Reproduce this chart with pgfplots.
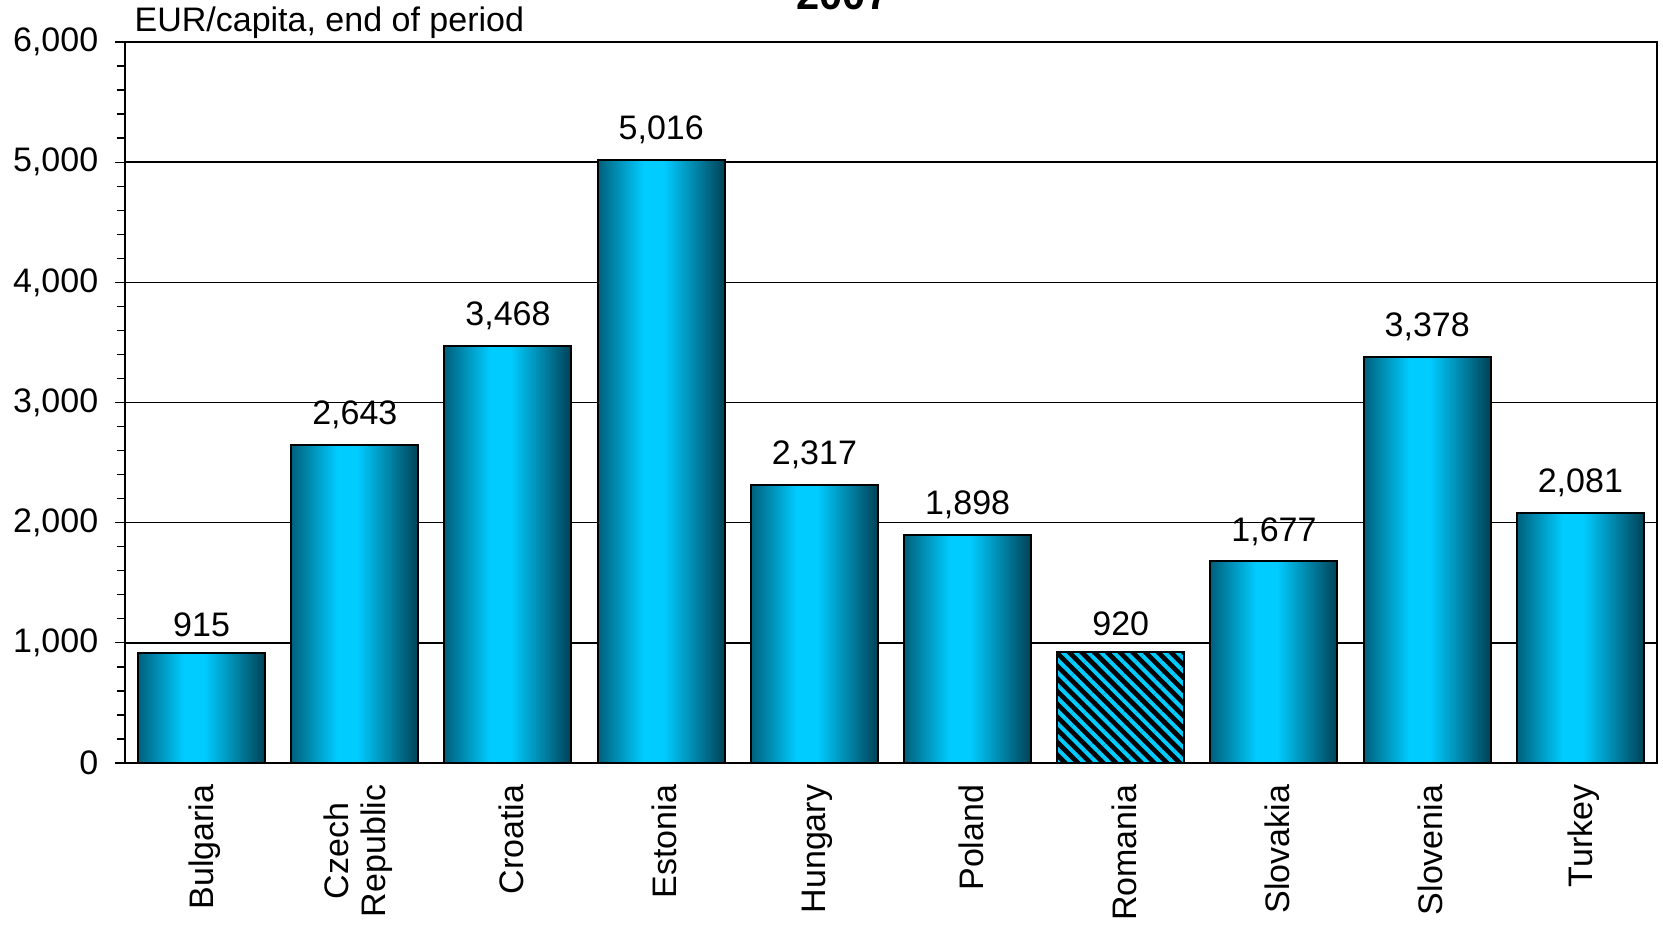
\documentclass[border=0pt]{standalone}
\usepackage{pgfplots}
\pgfplotsset{compat=1.18}
\usepackage{fontspec}
\setmainfont{Liberation Sans}
\usetikzlibrary{patterns.meta}
\definecolor{bardark}{RGB}{0,96,124}
\definecolor{bardarkr}{RGB}{0,66,86}
\definecolor{barlight}{RGB}{0,204,255}
\pgfdeclarehorizontalshading{barshade}{100bp}{color(0bp)=(bardark); color(25bp)=(bardark); color(43bp)=(barlight); color(51bp)=(barlight); color(75bp)=(bardarkr); color(100bp)=(bardarkr)}
\begin{document}
\begin{tikzpicture}
\begin{axis}[
  scale only axis,
  width=459.6pt, height=216.3pt,
  xmin=-0.5, xmax=9.5,
  ymin=0, ymax=6000,
  ytick={0,1000,...,6000},
  minor y tick num=4,
  ytick pos=left,
  ymajorgrids,
  major grid style={black, line width=0.5pt},
  axis line style={black, line width=0.6pt},
  tick align=outside,
  tick style={black, line width=0.4pt},
  major tick length=3pt, minor tick length=2.5pt,
  xtick={0,...,9},
  xtick style={draw=none},
  xticklabels={Bulgaria,{Czech\\Republic},Croatia,Estonia,Hungary,Poland,Romania,Slovakia,Slovenia,Turkey},
  xticklabel style={rotate=90, anchor=east, align=center, yshift=-1pt, font=\fontsize{10.2}{11}\selectfont},
  yticklabel style={font=\fontsize{10.2}{11}\selectfont, xshift=-1.5pt},
  /pgf/number format/.cd, 1000 sep={,}, assume math mode=true, /pgfplots/.cd,
  ybar, bar width=38.1pt,
  nodes near coords,
  every node near coord/.append style={font=\fontsize{10.2}{11}\selectfont, black, yshift=1.2pt},
  every axis plot/.append style={bar shift=0pt, draw=black, line width=0.6pt},
  shadedbar/.style={shade, shading=barshade},
  clip=false,
]
\addplot[shadedbar] coordinates {(0,915)};
\addplot[shadedbar] coordinates {(1,2643)};
\addplot[shadedbar] coordinates {(2,3468)};
\addplot[shadedbar] coordinates {(3,5016)};
\addplot[shadedbar] coordinates {(4,2317)};
\addplot[shadedbar] coordinates {(5,1898)};
\addplot[preaction={fill=black}, pattern={Lines[angle=-45,distance=2.7pt,line width=1.2pt]}, pattern color=barlight] coordinates {(6,920)};
\addplot[shadedbar] coordinates {(7,1677)};
\addplot[shadedbar] coordinates {(8,3378)};
\addplot[shadedbar] coordinates {(9,2081)};
\end{axis}
\node[anchor=base west, inner sep=0pt, font=\fontsize{10.2}{11}\selectfont] at (2.7pt,219.3pt) {EUR/capita, end of period};
\node[anchor=base, inner sep=0pt, font=\bfseries\fontsize{12.5}{14}\selectfont] at (215.4pt,225.9pt) {2007};
\pgfresetboundingbox
\path (-37.5pt,-48.9pt) rectangle (461.4pt,228.9pt);
\end{tikzpicture}
\end{document}
